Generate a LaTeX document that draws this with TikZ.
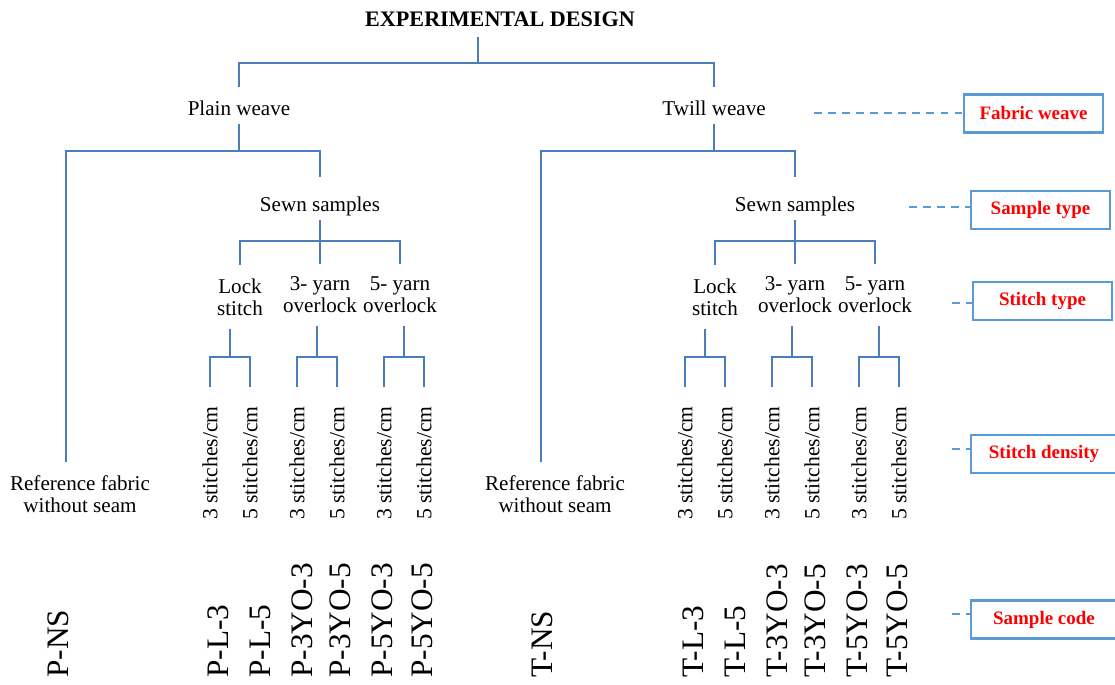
\documentclass[tikz,border=0pt]{standalone}
\usepackage{fontspec}
\setmainfont{Liberation Serif}
\definecolor{treeblue}{RGB}{74,126,187}
\definecolor{tagblue}{RGB}{91,155,213}

\begin{document}
\begin{tikzpicture}[x=0.02cm,y=-0.02cm,
  tree/.style={treeblue,line width=1.1pt},
  guide/.style={tagblue,line width=1.1pt,dash pattern=on 4.5pt off 3.5pt},
  tag/.style={draw=tagblue,line width=1.2pt,text=red,inner sep=0pt,
    font=\bfseries\fontsize{10.8}{13}\selectfont,minimum width=79pt,minimum height=21.6pt},
  ttl/.style={font=\bfseries\fontsize{12.6}{15}\selectfont,inner sep=0pt,anchor=base,text depth=6.3pt},
  lvl/.style={font=\fontsize{12}{14}\selectfont,inner sep=0pt,anchor=base,text depth=5.1pt},
  kid/.style={font=\fontsize{12}{12.5}\selectfont,align=center,inner sep=0pt,outer ysep=7.5pt},
  dens/.style={font=\fontsize{12.3}{14}\selectfont,rotate=90,anchor=east,inner sep=0pt,outer xsep=11pt},
  code/.style={font=\fontsize{17.8}{20}\selectfont,rotate=90,anchor=west,inner sep=0pt}]
  \useasboundingbox (0,0) rectangle (1115,684);

  \node[ttl] (title) at (500,26) {EXPERIMENTAL DESIGN};

  % plain weave half, then twill weave half
  \foreach \s/\dx/\wv/\nsx in {P/0/Plain/58,T/475/Twill/67} {
  \begin{scope}[shift={(\dx,0)}]
    \node[lvl,text height=15.9pt] (w\s) at (239,115) {\wv{} weave};
    \node[lvl,text height=19.3pt] (sewn\s) at (320,211) {Sewn samples};
    \node[kid] (ref\s) at (80,494) {Reference fabric\\without seam};
    \node[kid] (lock\s) at (240,297) {Lock\\stitch};
    \node[kid] (yoa\s) at (320,295) {3- yarn\\overlock};
    \node[kid] (yob\s) at (400,295) {5- yarn\\overlock};
    \node[dens] (d1\s) at (210,387) {3 stitches/cm};
    \node[dens] (d2\s) at (250,387) {5 stitches/cm};
    \node[dens] (d3\s) at (297,387) {3 stitches/cm};
    \node[dens] (d4\s) at (337,387) {5 stitches/cm};
    \node[dens] (d5\s) at (384,387) {3 stitches/cm};
    \node[dens] (d6\s) at (424,387) {5 stitches/cm};
    \node[code] (ns\s) at (\nsx,678) {\s-NS};
    \node[code] (l3\s) at (218,678) {\s-L-3};
    \node[code] (l5\s) at (260,678) {\s-L-5};
    \node[code] (a3\s) at (302,678) {\s-3YO-3};
    \node[code] (a5\s) at (340,678) {\s-3YO-5};
    \node[code] (b3\s) at (382,678) {\s-5YO-3};
    \node[code] (b5\s) at (422,678) {\s-5YO-5};

    \coordinate (pf\s) at (239,151);
    \coordinate (sf\s) at (320,241);
    \coordinate (fa\s) at (230,357);
    \coordinate (fb\s) at (317,357);
    \coordinate (fc\s) at (404,357);
    \draw[tree] (w\s.south) -- (pf\s);
    \draw[tree] ([xshift=-8pt]ref\s.north) |- (pf\s) -| (sewn\s.north);
    \draw[tree] (sewn\s.south) -- (yoa\s.north);
    \draw[tree] (lock\s.north) |- (sf\s) -| (yob\s.north);
    \draw[tree] (lock\s.south -| fa\s) -- (fa\s) (d1\s.east) |- (fa\s) -| (d2\s.east);
    \draw[tree] (yoa\s.south -| fb\s) -- (fb\s) (d3\s.east) |- (fb\s) -| (d4\s.east);
    \draw[tree] (yob\s.south -| fc\s) -- (fc\s) (d5\s.east) |- (fc\s) -| (d6\s.east);
  \end{scope}
  }

  \coordinate (f0) at (478,63);
  \draw[tree] (title.south -| f0) -- (f0);
  \draw[tree] (wP.north) |- (f0) -| (wT.north);

  % level tags on the right
  \node[tag] (tweave) at (1033.5,113.5) {Fabric weave};
  \node[tag] (tsample) at (1040.5,210) {Sample type};
  \node[tag] (tstitch) at (1042.5,301) {Stitch type};
  \node[tag,minimum width=83pt] (tdens) at (1044,454) {Stitch density};
  \node[tag,minimum width=83pt] (tcode) at (1044,619.5) {Sample code};
  \coordinate (gweave) at (814,113);
  \coordinate (gsample) at (909,207);
  \coordinate (gstitch) at (952,303);
  \coordinate (gdens) at (952,449);
  \coordinate (gcode) at (952,614);
  \draw[guide] (gweave) -- (gweave -| tweave.west);
  \draw[guide] (gsample) -- (gsample -| tsample.west);
  \draw[guide] (gstitch) -- (gstitch -| tstitch.west);
  \draw[guide] (gdens) -- (gdens -| tdens.west);
  \draw[guide] (gcode) -- (gcode -| tcode.west);
\end{tikzpicture}
\end{document}
